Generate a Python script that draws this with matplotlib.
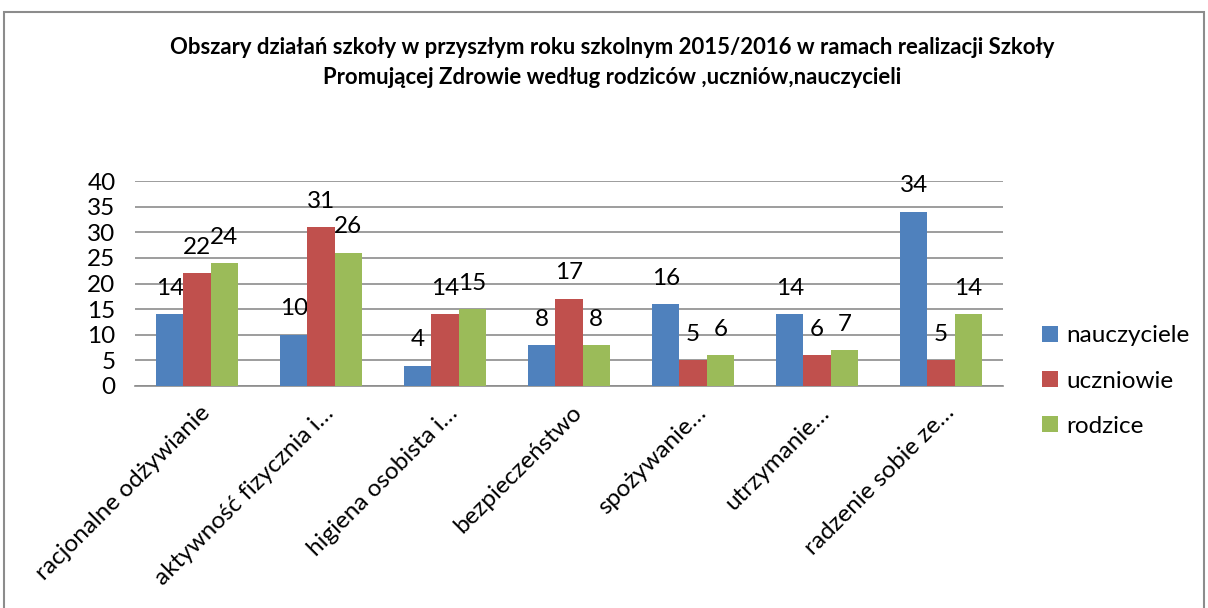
import matplotlib.pyplot as plt
import matplotlib.transforms as mtransforms
import numpy as np
from matplotlib.patches import Rectangle

categories = [
    "racjonalne odżywianie",
    "aktywność fizycznia i…",
    "higiena osobista i…",
    "bezpieczeństwo",
    "spożywanie…",
    "utrzymanie…",
    "radzenie sobie ze…",
]
nauczyciele = [14, 10, 4, 8, 16, 14, 34]
uczniowie = [22, 31, 14, 17, 5, 6, 5]
rodzice = [24, 26, 15, 8, 6, 7, 14]
series_names = ["nauczyciele", "uczniowie", "rodzice"]
colors = ["#4F81BD", "#C0504D", "#9BBB59"]

plt.rcParams["font.family"] = ["Lato", "DejaVu Sans"]
FS = 17.5

fig = plt.figure(figsize=(12.08, 6.08), dpi=100)
ax = fig.add_axes([135 / 1208, 1 - 386 / 608, (1003 - 135) / 1208, (386 - 181) / 608])

# outer chart border
fig.patches.append(Rectangle((4 / 1208, -0.05), 1200 / 1208, 1.05 - 12 / 608,
                             transform=fig.transFigure, fill=False,
                             edgecolor="#8c8c8c", linewidth=1.5))

x = np.arange(len(categories))
w = 0.22
for i, (vals, name, col) in enumerate(zip([nauczyciele, uczniowie, rodzice], series_names, colors)):
    pos = x + (i - 1) * w
    ax.bar(pos, vals, width=w, color=col, label=name, zorder=3)
    for p, v in zip(pos, vals):
        ax.annotate(str(v), (p, v), xytext=(0, 14), textcoords="offset points",
                    ha="center", va="baseline", fontsize=FS)

ax.set_xlim(-0.5, len(categories) - 0.5)
ax.set_ylim(0, 40)
ax.set_yticks(range(0, 41, 5))
ax.yaxis.grid(True, color="#8c8c8c", linewidth=1.2, zorder=0)
ax.tick_params(axis="y", length=0, labelsize=FS, pad=14)
ax.tick_params(axis="x", length=0, pad=0)
ax.set_xticks(x)
ax.set_xticklabels(categories, rotation=45, ha="right", va="baseline",
                   rotation_mode="anchor", fontsize=FS)
offset = mtransforms.ScaledTranslation(14 / 100, -28 / 100, fig.dpi_scale_trans)
for lab in ax.get_xticklabels():
    lab.set_transform(lab.get_transform() + offset)
for s in ["top", "right", "left"]:
    ax.spines[s].set_visible(False)
ax.spines["bottom"].set_color("#8c8c8c")
ax.spines["bottom"].set_linewidth(1.2)

fig.legend(*ax.get_legend_handles_labels(), loc="center left",
           bbox_to_anchor=(1042 / 1208, 1 - 381 / 608), frameon=False, fontsize=FS,
           handlelength=0.65, handleheight=0.65, labelspacing=1.0, handletextpad=0.35,
           borderpad=0, borderaxespad=0)

fig.text(612 / 1208, 1 - 47 / 608, "Obszary działań szkoły w przyszłym roku szkolnym 2015/2016 w ramach realizacji Szkoły",
         ha="center", va="center", fontsize=15.9, fontweight="bold")
fig.text(612 / 1208, 1 - 77 / 608, "Promującej Zdrowie według rodziców ,uczniów,nauczycieli",
         ha="center", va="center", fontsize=15.9, fontweight="bold")

fig.savefig("out.png", dpi=100)
